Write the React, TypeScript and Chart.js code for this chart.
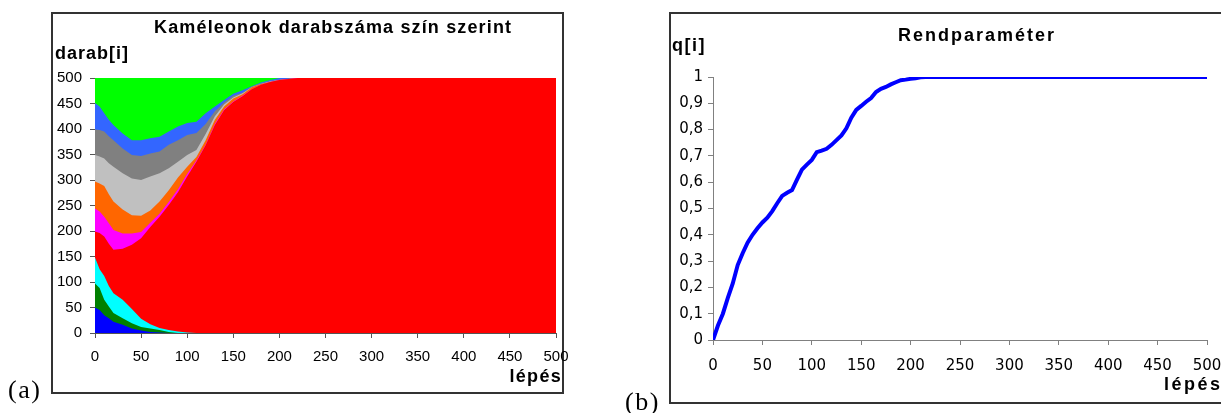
import React, { useEffect, useRef } from "react";
import { Chart, registerables } from "chart.js";
Chart.register(...registerables);

// ---------- chart (a): chameleon counts by colour (cumulative layer tops) ----------
const steps = [0, 5, 10, 15, 20, 30, 40, 50, 60, 70, 80, 90, 100, 110, 120, 130, 140, 150, 160, 170, 180, 190, 200, 210, 220, 500];
const blueTop = [50, 45, 35, 29, 22, 16, 9, 5, 2, 1, 0, 0, 0, 0, 0, 0, 0, 0, 0, 0, 0, 0, 0, 0, 0, 0];
const dkGreenTop = [97, 88, 65, 52, 39, 29, 19, 12, 9, 6, 2, 0, 0, 0, 0, 0, 0, 0, 0, 0, 0, 0, 0, 0, 0, 0];
const cyanTop = [148, 125, 112, 92, 78, 65, 47, 28, 17, 10, 6, 3, 1, 0, 0, 0, 0, 0, 0, 0, 0, 0, 0, 0, 0, 0];
const redTop = [199, 196, 189, 175, 163, 165, 173, 186, 208, 228, 251, 276, 307, 336, 368, 408, 437, 453, 464, 478, 487, 492, 496, 498, 500, 500];
const magentaTop = [244, 238, 228, 215, 202, 195, 195, 198, 216, 234, 257, 282, 312, 338, 369, 410, 438, 454, 465, 478, 487, 492, 496, 498, 500, 500];
const orangeTop = [297, 293, 288, 272, 258, 242, 231, 230, 240, 258, 280, 305, 326, 345, 378, 418, 444, 460, 468, 482, 488, 492, 496, 498, 500, 500];
const ltGrayTop = [349, 346, 342, 333, 326, 313, 303, 300, 307, 313, 323, 336, 349, 359, 390, 425, 448, 462, 470, 482, 488, 493, 496, 498, 500, 500];
const grayTop = [399, 398, 395, 386, 378, 362, 349, 347, 352, 356, 369, 378, 388, 392, 410, 435, 452, 465, 471, 483, 489, 494, 497, 499, 500, 500];
const royalTop = [451, 444, 431, 418, 408, 391, 378, 378, 382, 385, 395, 405, 412, 414, 431, 444, 457, 469, 476, 484, 491, 496, 500, 500, 500, 500];
const greenTop = [500, 500, 500, 500, 500, 500, 500, 500, 500, 500, 500, 500, 500, 500, 500, 500, 500, 500, 500, 500, 500, 500, 500, 500, 500, 500];

const layerValues = [blueTop, dkGreenTop, cyanTop, redTop, magentaTop, orangeTop, ltGrayTop, grayTop, royalTop, greenTop];
const layerColors = ["#0000FF", "#008000", "#00FFFF", "#FF0000", "#FF00FF", "#FF6600", "#C0C0C0", "#808080", "#3366FF", "#00FF00"];
const countTicks = [0, 50, 100, 150, 200, 250, 300, 350, 400, 450, 500];

// ---------- chart (b): order parameter ----------
const qSteps = [0, 5, 10, 15, 20, 25, 30, 35, 40, 45, 50, 55, 60, 65, 70, 75, 80, 85, 90, 95, 100, 105, 110, 115, 120, 125, 130, 135, 140, 145, 150, 155, 160, 165, 170, 175, 180, 185, 190, 195, 200, 205, 210, 215, 500];
const qValues = [0, 0.055, 0.1, 0.16, 0.215, 0.285, 0.33, 0.37, 0.4, 0.425, 0.447, 0.465, 0.49, 0.52, 0.548, 0.56, 0.57, 0.61, 0.648, 0.667, 0.685, 0.714, 0.72, 0.727, 0.742, 0.76, 0.778, 0.805, 0.845, 0.875, 0.89, 0.906, 0.92, 0.943, 0.955, 0.962, 0.972, 0.98, 0.988, 0.99, 0.993, 0.995, 0.999, 1, 1];

const FONT = "'Liberation Sans', Arial, sans-serif";
const FONT_B = "'DejaVu Sans', 'Liberation Sans', Arial, sans-serif";

export default function App() {
  const refA = useRef<HTMLCanvasElement | null>(null);
  const refB = useRef<HTMLCanvasElement | null>(null);

  useEffect(() => {
    const tickFont = { family: FONT, size: 15 };
    const tickFontB = { family: FONT_B, size: 15 };
    const chartA = new Chart(refA.current as HTMLCanvasElement, {
      type: "line",
      data: {
        datasets: layerValues.map((vals, i) => ({
          data: steps.map((s, j) => ({ x: s, y: vals[j] })),
          backgroundColor: layerColors[i],
          borderColor: "rgba(0,0,0,0)",
          borderWidth: 0,
          pointRadius: 0,
          fill: "origin",
          tension: 0,
        })),
      },
      options: {
        animation: false,
        responsive: false,
        events: [],
        layout: { padding: { left: 55, right: 44, top: 78, bottom: 40 } },
        plugins: { legend: { display: false }, tooltip: { enabled: false } },
        scales: {
          x: {
            type: "linear",
            min: 0,
            max: 500,
            z: 1,
            afterFit: (s: any) => { s.height = 40; },
            ticks: { stepSize: 50, color: "#000", font: tickFont, padding: 10, maxRotation: 0, autoSkip: false },
            grid: { drawOnChartArea: false, tickLength: 5, color: "#555" },
            border: { color: "#555", width: 1 },
          },
          y: {
            type: "linear",
            min: 0,
            max: 500,
            z: 1,
            afterFit: (s: any) => { s.width = 40; },
            afterBuildTicks: (s: any) => { s.ticks = countTicks.map((v) => ({ value: v })); },
            ticks: { color: "#000", font: tickFont, padding: 8 },
            grid: { drawOnChartArea: false, tickLength: 5, color: "#555" },
            border: { color: "#555", width: 1 },
          },
        },
      },
    });

    const chartB = new Chart(refB.current as HTMLCanvasElement, {
      type: "line",
      data: {
        datasets: [
          {
            data: qSteps.map((s, j) => ({ x: s, y: qValues[j] })),
            borderColor: "#0000FF",
            borderWidth: 4,
            pointRadius: 0,
            fill: false,
            tension: 0,
          },
        ],
      },
      options: {
        animation: false,
        responsive: false,
        events: [],
        layout: { padding: { left: 53, right: 53, top: 77, bottom: 33 } },
        plugins: { legend: { display: false }, tooltip: { enabled: false } },
        scales: {
          x: {
            type: "linear",
            min: 0,
            max: 500,
            afterFit: (s: any) => { s.height = 40; },
            ticks: { stepSize: 50, color: "#000", font: tickFontB, padding: 12, maxRotation: 0, autoSkip: false },
            grid: { drawOnChartArea: false, tickLength: 5, color: "#808080" },
            border: { color: "#808080", width: 1 },
          },
          y: {
            type: "linear",
            min: 0,
            max: 1,
            afterFit: (s: any) => { s.width = 40; },
            ticks: {
              stepSize: 0.1,
              color: "#000",
              font: tickFontB,
              padding: 5,
              callback: (v: any) => {
                const r = Math.round(Number(v) * 10) / 10;
                if (r === 0) return "0";
                if (r === 1) return "1";
                return r.toFixed(1).replace(".", ",");
              },
            },
            grid: { drawOnChartArea: false, tickLength: 5, color: "#808080" },
            border: { color: "#808080", width: 1 },
          },
        },
      },
    });

    return () => {
      chartA.destroy();
      chartB.destroy();
    };
  }, []);

  const bold = (extra: React.CSSProperties): React.CSSProperties => ({
    position: "absolute",
    fontFamily: FONT,
    fontWeight: "bold",
    fontSize: 18,
    lineHeight: 1.2,
    whiteSpace: "nowrap",
    color: "#000",
    ...extra,
  });
  const serif: React.CSSProperties = {
    position: "absolute",
    fontFamily: "'Liberation Serif', 'Times New Roman', serif",
    fontSize: 26,
    lineHeight: 1.2,
    letterSpacing: "1.5px",
    whiteSpace: "nowrap",
    color: "#000",
  };

  return (
    <div style={{ position: "fixed", left: 0, top: 0, width: 1221, height: 413, background: "#fff", overflow: "hidden" }}>
      <div style={{ position: "absolute", left: 51, top: 12, width: 513, height: 382, border: "2px solid #333", boxSizing: "border-box" }} />
      <div style={{ position: "absolute", left: 669, top: 12, width: 600, height: 392, border: "2px solid #333", boxSizing: "border-box" }} />
      <canvas ref={refA} width={600} height={413} style={{ position: "absolute", left: 0, top: 0 }} />
      <canvas ref={refB} width={640} height={413} style={{ position: "absolute", left: 620, top: 0 }} />
      <div style={bold({ left: 154, top: 17, letterSpacing: "1.15px" })}>Kaméleonok darabszáma szín szerint</div>
      <div style={bold({ left: 55, top: 43, letterSpacing: "1px" })}>darab[i]</div>
      <div style={bold({ left: 0, width: 562, textAlign: "right", top: 366, letterSpacing: "1.3px" })}>lépés</div>
      <div style={{ ...serif, left: 8, top: 374 }}>(a)</div>
      <div style={bold({ left: 898, top: 25, letterSpacing: "2px" })}>Rendparaméter</div>
      <div style={bold({ left: 672, top: 35, letterSpacing: "1.5px" })}>q[i]</div>
      <div style={bold({ left: 1164, top: 374, letterSpacing: "2.5px" })}>lépés</div>
      <div style={{ ...serif, left: 625, top: 386 }}>(b)</div>
    </div>
  );
}
